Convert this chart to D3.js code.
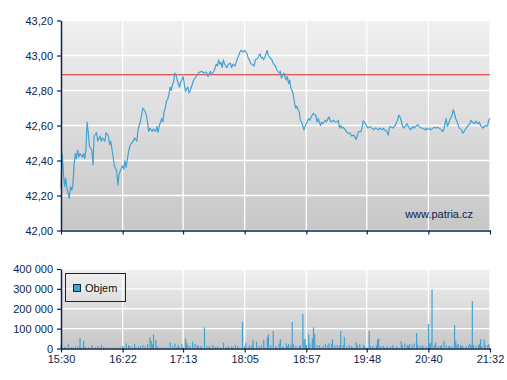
<!DOCTYPE html>
<html><head><meta charset="utf-8">
<script src="https://cdn.jsdelivr.net/npm/d3@7"></script>
<style>html,body{margin:0;padding:0;background:#fff;}svg{display:block;}</style>
</head><body>
<script>
// ---- DATA ----
// minutes after 15:30
const priceMinutes = [0,1,2,3,4,5,7,8,9,10,11,12,13,14,15,16,18,19,20,21,22,23,24,26,27,28,30,31,33,34,35,37,38,40,41,42,44,45,47,48,49,50,52,53,54,55,57,58,59,61,62,64,65,66,67,68,69,71,72,73,74,75,77,78,80,81,82,83,84,85,86,87,88,89,90,91,92,93,94,95,96,97,98,99,100,101,102,103,104,105,107,108,109,110,112,113,115,116,117,119,120,122,123,124,126,127,129,130,131,132,133,134,135,136,137,138,140,141,143,144,145,147,148,149,150,151,152,154,155,157,158,159,160,161,163,164,166,167,168,169,170,171,172,173,174,175,176,178,179,181,182,183,184,185,186,188,189,190,191,192,193,194,195,196,197,198,199,200,201,202,203,204,205,206,207,209,210,212,213,214,215,216,217,219,220,221,223,224,226,227,228,230,231,233,234,235,236,237,238,240,241,242,244,245,247,248,249,250,251,253,254,255,257,258,259,261,262,264,265,266,268,269,271,272,273,275,276,277,278,280,281,282,284,285,286,287,288,289,291,292,293,294,295,297,298,300,301,302,304,305,307,308,309,311,312,314,315,316,318,319,321,322,323,324,325,326,327,328,330,331,332,333,334,335,336,338,339,340,342,343,345,346,347,349,350,352,353,354,355,356,358,359,360,361,362];
const priceValues = [42.24,42.44,42.33,42.25,42.30,42.24,42.185,42.25,42.23,42.26,42.37,42.44,42.41,42.46,42.42,42.44,42.42,42.44,42.41,42.46,42.62,42.56,42.48,42.46,42.375,42.54,42.56,42.51,42.54,42.51,42.53,42.51,42.56,42.54,42.49,42.51,42.42,42.37,42.34,42.26,42.32,42.34,42.37,42.35,42.40,42.36,42.45,42.48,42.495,42.51,42.53,42.51,42.575,42.60,42.62,42.66,42.70,42.68,42.66,42.617,42.566,42.585,42.566,42.58,42.566,42.595,42.56,42.60,42.62,42.64,42.62,42.68,42.70,42.74,42.75,42.775,42.82,42.80,42.83,42.85,42.90,42.89,42.86,42.84,42.82,42.85,42.86,42.88,42.84,42.795,42.82,42.785,42.80,42.82,42.86,42.87,42.89,42.90,42.905,42.91,42.90,42.906,42.90,42.88,42.91,42.89,42.91,42.93,42.95,42.94,42.975,42.95,42.96,42.93,42.975,42.95,42.93,42.95,42.955,42.93,42.95,42.94,42.965,42.985,43.00,43.02,43.03,43.02,43.03,43.01,42.985,42.975,42.955,42.95,42.94,42.975,42.985,43.00,43.01,42.985,42.99,42.975,42.99,43.01,43.03,43.00,42.99,42.975,42.955,42.94,42.92,42.91,42.90,42.91,42.87,42.90,42.88,42.86,42.88,42.84,42.86,42.81,42.80,42.775,42.73,42.70,42.71,42.69,42.68,42.63,42.62,42.60,42.575,42.595,42.61,42.64,42.63,42.66,42.67,42.66,42.66,42.62,42.64,42.60,42.62,42.61,42.63,42.62,42.65,42.63,42.62,42.63,42.62,42.62,42.63,42.585,42.60,42.585,42.59,42.575,42.565,42.556,42.556,42.54,42.545,42.535,42.52,42.54,42.565,42.565,42.585,42.627,42.61,42.595,42.585,42.595,42.585,42.575,42.585,42.585,42.575,42.585,42.575,42.585,42.575,42.565,42.545,42.585,42.595,42.585,42.595,42.60,42.63,42.66,42.65,42.63,42.60,42.585,42.60,42.61,42.595,42.585,42.575,42.595,42.585,42.60,42.605,42.595,42.585,42.585,42.575,42.585,42.575,42.585,42.575,42.585,42.59,42.585,42.59,42.585,42.575,42.565,42.575,42.61,42.64,42.595,42.61,42.63,42.66,42.69,42.67,42.64,42.625,42.605,42.585,42.575,42.556,42.565,42.585,42.595,42.61,42.63,42.62,42.61,42.625,42.61,42.62,42.60,42.595,42.585,42.60,42.595,42.60,42.63,42.64,42.60];
const referencePrice = 42.89;
const volumeMinutes = [0,1,3,4,6,7,9,10,12,14,15,16,17,19,20,21,23,24,26,27,29,31,32,34,36,38,39,41,43,45,47,49,50,52,53,55,57,58,60,62,63,65,67,69,71,73,75,76,77,78,80,81,83,84,86,87,89,90,92,94,96,98,99,100,102,103,105,106,107,109,111,113,115,116,118,119,121,123,125,126,128,130,132,134,135,137,139,141,142,144,145,147,149,151,153,155,156,158,159,161,162,163,165,167,169,171,172,174,175,177,179,181,182,184,185,187,188,190,191,192,194,195,196,198,199,201,202,204,205,206,207,209,210,212,213,214,216,218,219,221,223,225,226,228,229,231,233,235,236,238,239,241,243,245,246,247,249,250,252,253,255,256,258,260,261,263,264,266,267,268,270,272,273,275,276,278,280,281,283,285,287,288,290,292,293,294,296,298,300,301,303,305,306,308,310,311,312,313,315,316,318,320,321,323,325,327,328,330,332,333,334,335,337,338,339,341,342,344,345,346,347,348,350,352,353,354,355,357,358,360,361];
const volumeValues = [17000,5000,8000,5000,22000,5000,8000,5000,10000,10000,5000,54000,5000,39000,8000,5000,5000,5000,17000,5000,8000,12000,5000,17000,8000,5000,5000,5000,5000,5000,5000,5000,5000,12000,5000,25000,17000,12000,8000,22000,5000,12000,12000,17000,12000,22000,56000,39000,22000,72000,42000,12000,5000,5000,5000,5000,5000,5000,30000,12000,25000,8000,17000,5000,22000,5000,50000,29000,17000,12000,34000,22000,17000,12000,13000,5000,106000,12000,12000,5000,17000,8000,12000,5000,5000,29000,8000,12000,5000,12000,5000,17000,12000,5000,135000,12000,29000,5000,17000,17000,45000,5000,34000,12000,17000,42000,5000,59000,72000,17000,88000,12000,5000,25000,47000,12000,5000,25000,12000,22000,17000,133000,22000,12000,5000,12000,17000,173000,47000,47000,17000,72000,25000,50000,106000,72000,17000,17000,5000,12000,22000,17000,25000,22000,45000,17000,17000,17000,88000,17000,59000,12000,17000,12000,5000,5000,32000,17000,22000,5000,17000,12000,5000,88000,12000,12000,5000,17000,45000,50000,12000,12000,5000,12000,5000,12000,17000,5000,12000,5000,37000,17000,25000,17000,12000,22000,17000,25000,77000,17000,12000,17000,5000,12000,123000,25000,29000,296000,17000,29000,12000,12000,17000,39000,17000,12000,12000,12000,118000,39000,17000,22000,17000,12000,12000,5000,12000,17000,22000,17000,239000,17000,12000,17000,22000,47000,12000,45000,17000,17000,22000];
const timeTicks = [0,52,103,155,207,258,310,362];
const timeTickLabels = ["15:30","16:22","17:13","18:05","18:57","19:48","20:40","21:32"];
const priceTicks = [42.0,42.2,42.4,42.6,42.8,43.0,43.2];
const volumeTicks = [0,100000,200000,300000,400000];
const legendLabel = "Objem";
const watermark = "www.patria.cz";

// ---- CHART ----
const W = 507, H = 380;
const navy = "#0b2352", lineColor = "#41a2d3";
const font = "Liberation Sans, Arial, sans-serif";
const svg = d3.select("body").append("svg").attr("width", W).attr("height", H);
const defs = svg.append("defs");
const g1 = defs.append("linearGradient").attr("id","bg").attr("x1",0).attr("y1",0).attr("x2",0).attr("y2",1);
g1.append("stop").attr("offset","0%").attr("stop-color","#f0f0f0");
g1.append("stop").attr("offset","100%").attr("stop-color","#c7c7c7");

const x = d3.scaleLinear().domain([0, 362]).range([61, 490]);
const yP = d3.scaleLinear().domain([42.0, 43.2]).range([230.5, 20.5]);
const yV = d3.scaleLinear().domain([0, 400000]).range([348.5, 269]);

const loc = d3.formatLocale({decimal:",", thousands:"\u00a0", grouping:[3], currency:["",""]});
const fP = loc.format(".2f");
const fV = v => loc.format(",d")(v).replace(/\u00a0/g, " ");

function panel(yScale, ticks) {
  const [y0, y1] = yScale.range();
  svg.append("rect").attr("x", 61).attr("y", y1).attr("width", 429).attr("height", y0 - y1).attr("fill", "url(#bg)");
  const gg = svg.append("g");
  gg.selectAll("line.h").data(ticks).join("line")
    .attr("x1", 61).attr("x2", 490).attr("y1", d => yScale(d)).attr("y2", d => yScale(d))
    .attr("stroke", "#fff").attr("stroke-width", 1.3);
  gg.selectAll("line.v").data(timeTicks).join("line")
    .attr("x1", d => x(d)).attr("x2", d => x(d)).attr("y1", y1).attr("y2", y0)
    .attr("stroke", "#fff").attr("stroke-width", 1.3);
}
panel(yP, priceTicks);
panel(yV, volumeTicks);

// reference line
svg.append("line").attr("x1", 61).attr("x2", 490).attr("y1", yP(referencePrice)).attr("y2", yP(referencePrice))
  .attr("stroke", "#e02a2a").attr("stroke-width", 1.2);

// price line
const pts = priceMinutes.map((m, i) => [m, priceValues[i]]);
svg.append("path").datum(pts)
  .attr("d", d3.line().x(d => x(d[0])).y(d => yP(d[1])))
  .attr("fill", "none").attr("stroke", lineColor).attr("stroke-width", 1.2).attr("stroke-linejoin", "round");

// volume bars
const vol = volumeMinutes.map((m, i) => [m, volumeValues[i]]);
svg.append("g").selectAll("rect").data(vol).join("rect")
  .attr("x", d => x(d[0]) - 0.5).attr("width", 1.2)
  .attr("y", d => yV(d[1])).attr("height", d => yV(0) - yV(d[1]))
  .attr("fill", lineColor);

// axes
function styleAxis(g) {
  g.selectAll("path.domain").attr("stroke", navy).attr("stroke-width", 1.5);
  g.selectAll(".tick line").attr("stroke", navy).attr("stroke-width", 1.2);
  g.selectAll("text").attr("fill", navy).attr("font-family", font).attr("font-size", "11px");
}
svg.append("g").attr("transform", "translate(61,0)")
  .call(d3.axisLeft(yP).tickValues(priceTicks).tickFormat(fP).tickSize(4).tickSizeOuter(0).tickPadding(4))
  .call(styleAxis);
svg.append("g").attr("transform", "translate(0,230.5)")
  .call(d3.axisBottom(x).tickValues(timeTicks).tickFormat("").tickSize(4).tickSizeOuter(0))
  .call(styleAxis);
svg.append("g").attr("transform", "translate(61,0)")
  .call(d3.axisLeft(yV).tickValues(volumeTicks).tickFormat(fV).tickSize(4).tickSizeOuter(0).tickPadding(4))
  .call(styleAxis);
svg.append("g").attr("transform", "translate(0,348.5)")
  .call(d3.axisBottom(x).tickValues(timeTicks).tickFormat((d, i) => timeTickLabels[i]).tickSize(4).tickSizeOuter(0).tickPadding(3))
  .call(styleAxis);

// watermark
svg.append("text").attr("x", 473).attr("y", 218).attr("text-anchor", "end")
  .attr("font-family", font).attr("font-size", "11px").attr("fill", navy).text(watermark);

// legend
const lg = svg.append("g");
lg.append("rect").attr("x", 65.5).attr("y", 273.5).attr("width", 60).attr("height", 28)
  .attr("fill", "none").attr("stroke", "#222").attr("stroke-width", 1);
lg.append("rect").attr("x", 73.5).attr("y", 284.5).attr("width", 7).attr("height", 7)
  .attr("fill", lineColor).attr("stroke", "#1a2a40").attr("stroke-width", 1);
lg.append("text").attr("x", 85).attr("y", 292).attr("font-family", font).attr("font-size", "11px")
  .attr("fill", "#111").text(legendLabel);
</script>
</body></html>
